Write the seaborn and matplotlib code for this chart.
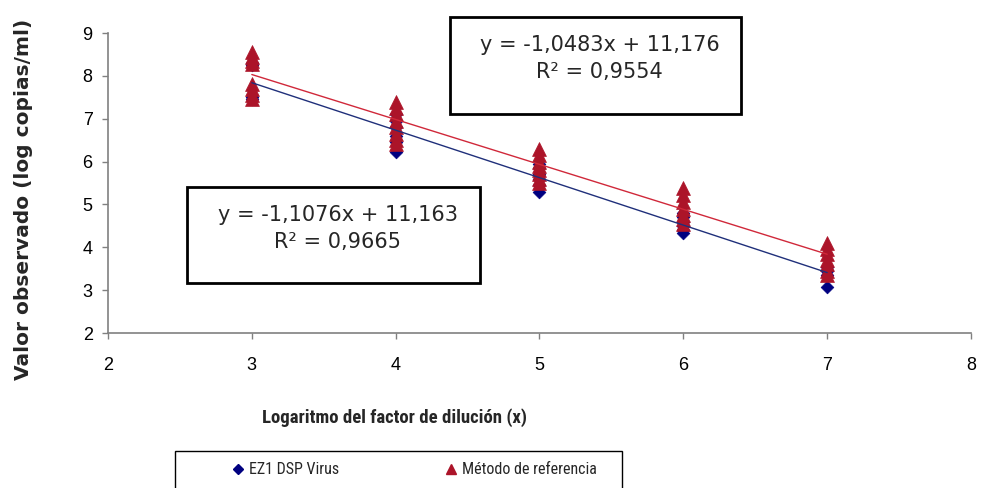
import numpy as np
import pandas as pd
import matplotlib
matplotlib.use("Agg")
import matplotlib.pyplot as plt
from matplotlib.lines import Line2D
from matplotlib.patches import Rectangle
from matplotlib import font_manager
import seaborn as sns

# Observed values (log copies/ml) per dilution factor (log)
ez1_x = [3, 3, 3, 3,
         4, 4, 4, 4, 4, 4,
         5, 5, 5, 5, 5, 5,
         6, 6, 6, 6, 6, 6,
         7, 7, 7, 7]
ez1_y = [8.30, 8.25, 7.50, 7.45,
         7.10, 6.95, 6.80, 6.60, 6.45, 6.22,
         5.95, 5.85, 5.70, 5.60, 5.45, 5.29,
         4.80, 4.70, 4.60, 4.50, 4.40, 4.33,
         3.55, 3.45, 3.35, 3.07]

ref_x = [3, 3, 3, 3, 3, 3, 3, 3,
         4, 4, 4, 4, 4, 4, 4, 4,
         5, 5, 5, 5, 5, 5, 5, 5,
         6, 6, 6, 6, 6, 6, 6,
         7, 7, 7, 7, 7, 7, 7]
ref_y = [8.55, 8.45, 8.35, 8.28, 7.80, 7.70, 7.55, 7.45,
         7.40, 7.25, 7.10, 6.95, 6.80, 6.65, 6.50, 6.42,
         6.30, 6.15, 6.00, 5.90, 5.80, 5.70, 5.60, 5.50,
         5.38, 5.22, 5.05, 4.90, 4.75, 4.65, 4.55,
         4.10, 3.95, 3.85, 3.70, 3.60, 3.45, 3.35]

# Linear trend lines: slope, intercept, R²
ez1_fit = (-1.1076, 11.163, 0.9665)
ref_fit = (-1.0483, 11.176, 0.9554)
fit_x = [3, 7]

series_names = ["EZ1 DSP Virus", "Método de referencia"]
x_ticks = [2, 3, 4, 5, 6, 7, 8]
y_ticks = [2, 3, 4, 5, 6, 7, 8, 9]

BLUE = "#000080"
RED = "#AC1429"
GRAY = "#808080"

sns.set_theme(style="ticks")
plt.rcParams["font.family"] = ["Liberation Sans", "DejaVu Sans"]


# Narrow faces for the x label (bold) and legend (regular)
def _weight(f):
    w = f.weight
    if isinstance(w, str):
        w = font_manager.weight_dict.get(w, 400)
    return int(w)


def _is_narrow(f):
    return ("Narrow" in f.name or "Condensed" in f.name
            or str(f.stretch) in ("condensed", "semi-condensed"))


def _pick_narrow(bold):
    cands = [f for f in font_manager.fontManager.ttflist if _is_narrow(f)
             and ((_weight(f) >= 600) if bold else (350 <= _weight(f) < 600))
             and "italic" not in str(f.style).lower()
             and "oblique" not in str(f.style).lower()]
    order = ["Liberation Sans Narrow", "Roboto Condensed", "DejaVu Sans"]
    cands.sort(key=lambda f: order.index(f.name) if f.name in order else 99)
    if cands:
        f = cands[0]
        st = str(f.stretch)
        if st not in ("condensed", "semi-condensed"):
            st = "normal"
        return [f.name, "Liberation Sans"], st
    return ["Liberation Sans"], "normal"


NARROW_B, STRETCH_B = _pick_narrow(True)
NARROW_R, STRETCH_R = _pick_narrow(False)

W, H = 981, 488
fig = plt.figure(figsize=(W / 100, H / 100), dpi=100)
fig.patch.set_facecolor("white")


def fx(px):
    return px / W


def fy(py):
    return 1 - py / H


ax = fig.add_axes([fx(108), fy(333), (971 - 108) / W, 300 / H])
ax.set_facecolor("white")

ez1 = pd.DataFrame({"x": ez1_x, "y": ez1_y})
ref = pd.DataFrame({"x": ref_x, "y": ref_y})

sns.scatterplot(data=ez1, x="x", y="y", marker="D", s=42, color=BLUE,
                edgecolor=BLUE, linewidth=0.5, ax=ax, zorder=3, legend=False)
sns.scatterplot(data=ref, x="x", y="y", marker="^", s=100, color=RED,
                edgecolor=RED, linewidth=0.5, ax=ax, zorder=4, legend=False)


def fit_line(fit):
    slope, intercept, _ = fit
    return pd.DataFrame({"x": fit_x,
                         "y": [slope * v + intercept for v in fit_x]})


sns.lineplot(data=fit_line(ez1_fit), x="x", y="y", color="#1F2F7A",
             linewidth=1.0, ax=ax, zorder=5)
sns.lineplot(data=fit_line(ref_fit), x="x", y="y", color="#D0283A",
             linewidth=1.0, ax=ax, zorder=6)

ax.set_xlim(2, 8)
ax.set_ylim(2, 9)
ax.set_xticks(x_ticks)
ax.set_yticks(y_ticks)
ax.set_xticklabels([str(t) for t in x_ticks])
ax.set_yticklabels([str(t) for t in y_ticks])

for side in ("top", "right"):
    ax.spines[side].set_visible(False)
for side in ("left", "bottom"):
    ax.spines[side].set_color(GRAY)
    ax.spines[side].set_linewidth(1.2)

ax.tick_params(axis="both", direction="out", length=4, width=1.0,
               color=GRAY, labelsize=13, labelcolor="black")
ax.tick_params(axis="x", pad=13)
ax.tick_params(axis="y", pad=7)

ax.set_xlabel("Logaritmo del factor de dilución (x)",
              fontsize=13.5, fontweight="bold", family=NARROW_B,
              fontstretch=STRETCH_B)
ax.set_ylabel("Valor observado (log copias/ml)",
              fontsize=14.5, fontweight="bold",
              family=["DejaVu Sans"])
ax.xaxis.set_label_coords((394 - 108) / 863, (333 - 418) / 300)
ax.xaxis.label.set_va("center")
ax.yaxis.set_label_coords((24 - 108) / 863, (333 - 199) / 300)
ax.yaxis.label.set_va("center")


def fmt(v, nd):
    return f"{v:.{nd}f}".replace(".", ",")


def eq_box(left, top, right, bottom, fit):
    slope, intercept, r2 = fit
    fig.add_artist(Rectangle((fx(left), fy(bottom)), fx(right - left),
                             (bottom - top) / H, transform=fig.transFigure,
                             facecolor="white", edgecolor="black",
                             linewidth=2.0, zorder=10))
    cx = fx((left + right) / 2 + 4)
    fig.text(cx, fy(top + 28), f"y = {fmt(slope, 4)}x + {fmt(intercept, 3)}",
             ha="center", va="center", fontsize=15,
             family=["DejaVu Sans"], zorder=11)
    fig.text(cx, fy(top + 55), f"R² = {fmt(r2, 4)}",
             ha="center", va="center", fontsize=15,
             family=["DejaVu Sans"], zorder=11)


eq_box(450, 17, 741, 114, ref_fit)
eq_box(187, 187, 480, 283, ez1_fit)

# Legend frame (runs past the lower edge of the canvas)
fig.add_artist(Rectangle((fx(175), fy(500)), fx(622 - 175), (500 - 451) / H,
                         transform=fig.transFigure, facecolor="white",
                         edgecolor="black", linewidth=1.0, zorder=1,
                         clip_on=False))
handles = [Line2D([], [], marker="D", linestyle="none", color=BLUE,
                  markersize=5.5),
           Line2D([], [], marker="^", linestyle="none", color=RED,
                  markersize=7)]
leg = fig.legend(handles, series_names, loc="center left",
                 bbox_to_anchor=(fx(217), fy(470)), ncol=2, frameon=False,
                 handlelength=0.8, handletextpad=0.3, columnspacing=6.6,
                 borderpad=0.4,
                 prop={"family": NARROW_R, "stretch": STRETCH_R,
                       "size": 11.5})

fig.savefig("out.png", dpi=100, facecolor="white")
